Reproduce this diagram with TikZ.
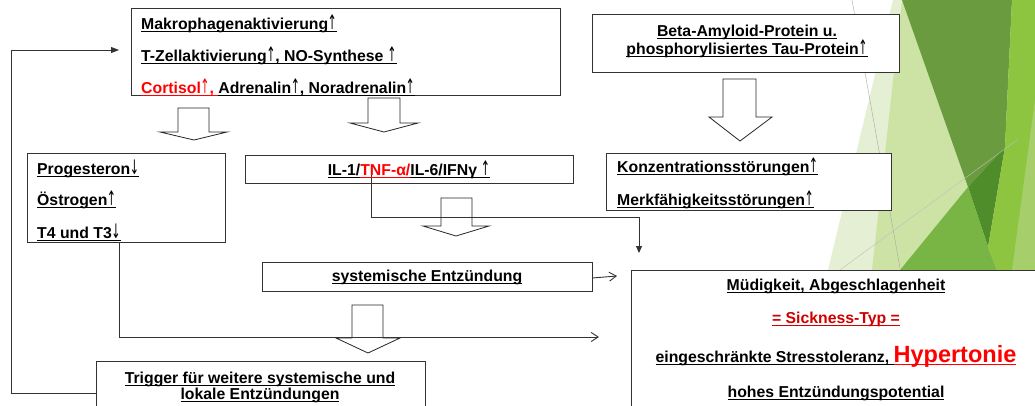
\documentclass[tikz,border=0pt]{standalone}
\usepackage{fontspec}
\usepackage{graphicx}
\setmainfont{Liberation Sans}
\newfontfamily\arrfont{DejaVu Sans}
\usetikzlibrary{arrows.meta,calc}
\newsavebox\ulbox
\newcommand\ulx[1]{\sbox\ulbox{#1}\rlap{\rule[-2.6pt]{\wd\ulbox}{0.9pt}}\usebox\ulbox}
\newcommand\upa{{\arrfont\mdseries\fontsize{20}{20}\selectfont\kern-0.5pt\scalebox{0.55}[1]{↑}}}
\newcommand\dna{{\arrfont\mdseries\fontsize{20}{20}\selectfont\kern-0.5pt\scalebox{0.55}[1]{↓}}}
\definecolor{pale}{HTML}{E4EFD3}
\definecolor{lightg}{HTML}{CDE3A5}
\definecolor{darkg}{HTML}{6B9B3F}
\definecolor{darkerg}{HTML}{4E8D29}
\definecolor{midg}{HTML}{79B545}
\definecolor{yg}{HTML}{8DC540}
\definecolor{ylight}{HTML}{A6CF6C}
\definecolor{sick}{HTML}{D00000}
\begin{document}
\begin{tikzpicture}[x=1pt,y=-1pt,
  box/.style={draw=black!80, line width=1pt, fill=white, inner sep=0pt, outer sep=0pt, anchor=north west},
  txt/.style={inner sep=0pt, anchor=base west, font=\bfseries\fontsize{15.8}{18}\selectfont},
  ctxt/.style={txt, anchor=base},
  blockarr/.style={draw=black!85, fill=white, line width=0.8pt, line join=miter},
  conn/.style={draw=black!80, line width=0.9pt},
  openhead/.style={conn, -{Straight Barb[length=7pt,width=9pt]}},
  fillhead/.style={conn, -{Triangle[length=8pt,width=6pt]}}]
\useasboundingbox (0,0) rectangle (1035,405);
\fill[white] (0,0) rectangle (1035,405);
% background decoration
\fill[pale] (893,0) -- (1035,0) -- (1035,270) -- (828,270) -- cycle;
\fill[lightg] (902,0) -- (968,187) -- (900,270) -- (872,270) -- cycle;
\fill[darkg] (902,0) -- (1012,0) -- (1005,147) -- (968,187) -- cycle;
\fill[darkerg] (968,187) -- (1005,147) -- (988,247) -- cycle;
\fill[midg] (900,270) -- (968,187) -- (988,247) -- (997,270) -- cycle;
\fill[yg] (1012,0) -- (1035,0) -- (1035,270) -- (997,270) -- (988,247) -- (1005,147) -- cycle;
\fill[ylight] (1035,100) -- (1035,270) -- (1012,270) -- cycle;
\draw[black!35, line width=0.4pt] (852,0) -- (900,268);
\draw[black!25, line width=0.4pt] (840,270) -- (1017,140);

% boxes
\node[box, minimum width=429pt, minimum height=87pt] (makro) at (131,8) {};
\node[box, minimum width=307pt, minimum height=58pt] (beta) at (592,14) {};
\node[box, minimum width=198pt, minimum height=89pt] (prog) at (27,153) {};
\node[box, minimum width=328pt, minimum height=28pt] (il) at (245,155) {};
\node[box, minimum width=285pt, minimum height=57pt] (konz) at (606,153) {};
\node[box, minimum width=330pt, minimum height=29pt] (sys) at (262,262) {};
\node[box, minimum width=329pt, minimum height=60pt] (trig) at (96,361) {};
\node[box, minimum width=420pt, minimum height=150pt] (mued) at (631,270) {};

% block arrows
\draw[blockarr] (178,108) -- (209,108) -- (209,132) -- (227,132) -- (194,140) -- (160,132) -- (178,132) -- cycle;
\draw[blockarr] (368,98) -- (400,98) -- (400,123) -- (418,123) -- (384,132) -- (350,123) -- (368,123) -- cycle;
\draw[blockarr] (723,79) -- (756,79) -- (756,117) -- (772,117) -- (740,141) -- (709,117) -- (723,117) -- cycle;
\draw[blockarr] (441,198) -- (472,198) -- (472,226) -- (489,226) -- (456,236) -- (423,226) -- (441,226) -- cycle;
\draw[blockarr] (352,305) -- (383,305) -- (383,338) -- (400,338) -- (368,353) -- (336,338) -- (352,338) -- cycle;

% connectors
\coordinate (tnf) at (371,173);
\draw[fillhead] (trig.west |- 0,393) -| (11,50) -- ([xshift=-12pt]makro.west |- 0,50);
\draw[conn, -{Triangle[length=7pt,width=6pt]}] (tnf) |- (639,217) -- ([yshift=17pt]mued.north west -| 639,0);
\draw[openhead] ([xshift=92pt]prog.south west) |- ([xshift=-32pt]mued.west |- 0,337);
\draw[openhead] (sys.east |- 0,278) -- ([xshift=-14pt]mued.north west |- 0,276);

% texts
\node[txt] (m1) at (141,29) {\ulx{Makrophagenaktivierung\upa}};
\node[txt] (m2) at (141,61) {\ulx{T-Zellaktivierung\upa, NO-Synthese \upa}};
\node[txt] (m3) at (141,93) {{\color{red}\ulx{Cortisol\upa, }}\ulx{Adrenalin\upa, Noradrenalin\upa}};
\node[ctxt] (b1) at (747,36) {\ulx{Beta-Amyloid-Protein u.}};
\node[ctxt] (b2) at (747,54) {\ulx{phosphorylisiertes Tau-Protein\upa}};
\node[txt] (p1) at (37,174) {\ulx{Progesteron\dna}};
\node[txt] (p2) at (37,205) {\ulx{Östrogen\upa}};
\node[txt] (p3) at (37,238) {\ulx{T4 und T3\dna}};
\node[ctxt] (i1) at (409,175) {\ulx{IL-1/}{\color{red}\ulx{TNF-α/}}\ulx{IL-6/IFNγ \upa}};
\node[txt] (k1) at (617,172) {\ulx{Konzentrationsstörungen\upa}};
\node[txt] (k2) at (617,205) {\ulx{Merkfähigkeitsstörungen\upa}};
\node[ctxt] (s1) at (427,281) {\ulx{systemische Entzündung}};
\node[ctxt] (t1) at (260,383) {\ulx{Trigger für weitere systemische und}};
\node[ctxt] (t2) at (260,399) {\ulx{lokale Entzündungen}};
\node[ctxt] (u1) at (836,290) {\ulx{Müdigkeit, Abgeschlagenheit}};
\node[ctxt, text=sick] (u2) at (836,323) {\ulx{= Sickness-Typ =}};
\node[ctxt] (u3) at (836,362) {\ulx{eingeschränkte Stresstoleranz, }{\color{red}\fontsize{23.5}{26}\selectfont\ulx{Hypertonie}}};
\node[ctxt] (u4) at (836,397) {\ulx{hohes Entzündungspotential}};
\end{tikzpicture}
\end{document}
